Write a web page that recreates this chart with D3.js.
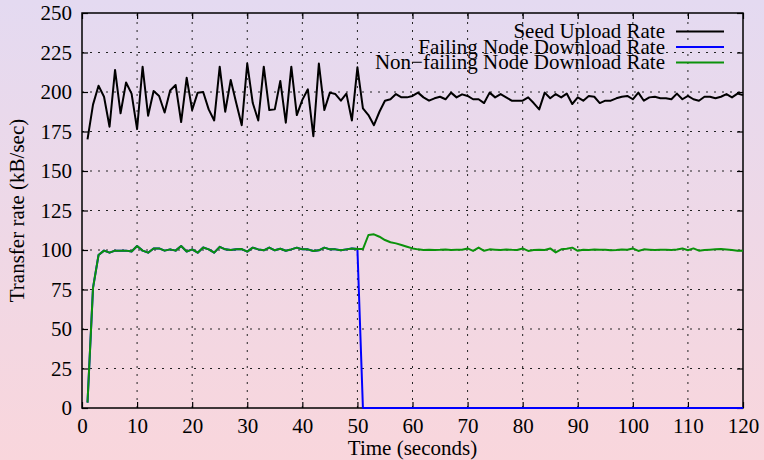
<!DOCTYPE html>
<html>
<head>
<meta charset="utf-8">
<script src="https://cdn.jsdelivr.net/npm/d3@7/dist/d3.min.js"></script>
<style>
  body { margin: 0; padding: 0; }
  svg { display: block; }
</style>
</head>
<body>
<div id="chart"></div>
<script>
// time axis: one sample per second, 1..120
var seconds = d3.range(1, 121);

var seedUpload = [170, 192, 204, 197, 178, 214, 186.5, 206, 199, 176.5,
    216, 185, 200.6, 197.5, 187, 201, 204.4, 181, 209, 188.6,
    199.6, 200, 189, 182, 216, 187.5, 207.6, 193, 179, 218,
    193, 182, 216, 188.6, 189, 207, 180.6, 216, 185.4, 195,
    201.7, 172, 218, 188.6, 199.6, 198.7, 194.5, 199, 182, 215.6,
    189.7, 185.4, 179, 187.5, 194.5, 195.4, 198.7, 196.6, 196.6, 197.5,
    199.6, 196.6, 194.5, 196, 197, 195.4, 199.6, 196.6, 198.5, 197.5,
    195.4, 195.4, 193, 199.6, 196.6, 198.7, 196.6, 194.5, 194.5, 194.5,
    196.6, 193, 189, 199.6, 196, 198.7, 196.6, 199, 192.4, 196.6,
    194.5, 197.5, 197, 193, 194.5, 194.5, 196, 197, 197.5, 195.4,
    199.6, 194.5, 196.6, 197, 196, 196, 195.4, 199, 195.4, 197.5,
    195.4, 194.5, 197, 197, 196, 197, 198.7, 196.6, 199, 198];

var failingDownload = [3.4, 76, 96.8, 99.6, 98.3, 99.6, 99.6, 99.6, 99, 102.5,
    99.6, 98.3, 101, 101, 99.6, 100.4, 99.6, 102.5, 99, 100.4,
    98.3, 101.6, 100.4, 98.3, 102, 100.4, 100, 100.4, 100.6, 99,
    101.5, 100.4, 99.8, 101.5, 99.8, 100.8, 99.5, 100.4, 101.5, 100.4,
    100.4, 99.4, 99.8, 101.5, 100.4, 100.4, 99.8, 100.4, 101, 100.6,
    0, 0, 0, 0, 0, 0, 0, 0, 0, 0,
    0, 0, 0, 0, 0, 0, 0, 0, 0, 0,
    0, 0, 0, 0, 0, 0, 0, 0, 0, 0,
    0, 0, 0, 0, 0, 0, 0, 0, 0, 0,
    0, 0, 0, 0, 0, 0, 0, 0, 0, 0,
    0, 0, 0, 0, 0, 0, 0, 0, 0, 0,
    0, 0, 0, 0, 0, 0, 0, 0, 0, 0];

var nonFailingDownload = [3.4, 76, 96.8, 99.6, 98.3, 99.6, 99.6, 99.6, 99, 102.5,
    99.6, 98.3, 101, 101, 99.6, 100.4, 99.6, 102.5, 99, 100.4,
    98.3, 101.6, 100.4, 98.3, 102, 100.4, 100, 100.4, 100.6, 99,
    101.5, 100.4, 99.8, 101.5, 99.8, 100.8, 99.5, 100.4, 101.5, 100.4,
    100.4, 99.4, 99.8, 101.5, 100.4, 100.4, 99.8, 100.4, 101, 100.6,
    100.6, 109.5, 109.9, 108.4, 106.3, 104.9, 104.2, 103.2, 102.1, 101,
    100.4, 100, 100.2, 100, 100.1, 100.3, 100, 100.2, 100.1, 101,
    99.4, 101.5, 99.5, 100.4, 100.2, 100, 100.3, 100.1, 100, 101,
    99.4, 100, 100.2, 100, 101, 98.5, 100.4, 100.8, 101.5, 99.5,
    100.2, 100, 100.3, 100.1, 100.2, 99.8, 100, 100.3, 100.1, 101,
    99.4, 100.4, 100.2, 100, 100.1, 100.2, 100, 100.3, 101, 99.8,
    101, 99.6, 100, 100.2, 100.4, 100.6, 100.3, 100, 99.6, 99.5];

var seriesNames = ["Seed Upload Rate", "Failing Node Download Rate", "Non\u2212failing Node Download Rate"];
var seriesColors = ["#000000", "#0000ff", "#0b920b"];

var xTicks = d3.range(0, 121, 10);
var yTicks = d3.range(0, 251, 25);

var width = 764, height = 460;
var margin = {top: 13, right: 21, bottom: 52, left: 82};

var svg = d3.select("#chart")
    .append("svg")
    .attr("width", width)
    .attr("height", height)
    .style("font-family", "'Liberation Serif', 'DejaVu Serif', serif");

// background gradient lavender -> pink
var grad = svg.append("defs")
    .append("linearGradient")
    .attr("id", "bg")
    .attr("x1", "0%").attr("y1", "0%")
    .attr("x2", "0%").attr("y2", "100%");
grad.append("stop").attr("offset", "0%").attr("stop-color", "#e4daf1");
grad.append("stop").attr("offset", "100%").attr("stop-color", "#f9d6dc");

svg.append("rect")
    .attr("width", width)
    .attr("height", height)
    .attr("fill", "url(#bg)");

var x = d3.scaleLinear().domain([0, 120]).range([margin.left, width - margin.right]);
var y = d3.scaleLinear().domain([0, 250]).range([height - margin.bottom, margin.top]);

// grid
var grid = svg.append("g").attr("class", "grid");
grid.selectAll(".gx")
    .data(xTicks.slice(1, -1))
    .enter()
    .append("line")
    .attr("x1", function (d) { return x(d); })
    .attr("x2", function (d) { return x(d); })
    .attr("y1", y(0))
    .attr("y2", y(250))
    .attr("stroke", "#222")
    .attr("stroke-width", 1)
    .attr("stroke-dasharray", "2,6");
grid.selectAll(".gy")
    .data(yTicks.slice(1, -1))
    .enter()
    .append("line")
    .attr("y1", function (d) { return y(d); })
    .attr("y2", function (d) { return y(d); })
    .attr("x1", x(0))
    .attr("x2", x(120))
    .attr("stroke", "#222")
    .attr("stroke-width", 1)
    .attr("stroke-dasharray", "2,6");

// axes, ticks pointing inward on all four sides
var fs = "21px";
var xAxis = svg.append("g")
    .attr("transform", "translate(0," + y(0) + ")")
    .call(d3.axisBottom(x).tickValues(xTicks).tickSizeInner(-6).tickSizeOuter(0).tickPadding(10));
var yAxis = svg.append("g")
    .attr("transform", "translate(" + x(0) + ",0)")
    .call(d3.axisLeft(y).tickValues(yTicks).tickSizeInner(-6).tickSizeOuter(0).tickPadding(10));
svg.append("g")
    .attr("transform", "translate(0," + y(250) + ")")
    .call(d3.axisTop(x).tickValues(xTicks).tickSizeInner(-6).tickSizeOuter(0).tickFormat(""));
svg.append("g")
    .attr("transform", "translate(" + x(120) + ",0)")
    .call(d3.axisRight(y).tickValues(yTicks).tickSizeInner(-6).tickSizeOuter(0).tickFormat(""));

svg.selectAll(".domain").remove();
svg.selectAll(".tick line").attr("stroke", "#000").attr("stroke-width", 1.2);
svg.selectAll(".tick text")
    .attr("fill", "#000")
    .style("font-size", fs)
    .style("font-family", "'Liberation Serif', 'DejaVu Serif', serif");

// plot border (drawn under the data lines)
svg.append("rect")
    .attr("x", x(0))
    .attr("y", y(250))
    .attr("width", x(120) - x(0))
    .attr("height", y(0) - y(250))
    .attr("fill", "none")
    .attr("stroke", "#000")
    .attr("stroke-width", 1.5);

// lines
var line = d3.line()
    .x(function (d, i) { return x(seconds[i]); })
    .y(function (d) { return y(d); });

var allSeries = [seedUpload, failingDownload, nonFailingDownload];
svg.selectAll(".series")
    .data(allSeries)
    .enter()
    .append("path")
    .attr("class", "series")
    .attr("d", line)
    .attr("fill", "none")
    .attr("stroke", function (d, i) { return seriesColors[i]; })
    .attr("stroke-width", 2)
    .attr("stroke-linejoin", "round");

// legend
var legend = svg.append("g").attr("class", "legend");
var rows = legend.selectAll("g")
    .data(seriesNames)
    .enter()
    .append("g")
    .attr("transform", function (d, i) { return "translate(0," + (38 + i * 15.5) + ")"; });
rows.append("text")
    .attr("x", 665)
    .attr("text-anchor", "end")
    .style("font-size", fs)
    .text(function (d) { return d; });
rows.append("line")
    .attr("x1", 676)
    .attr("x2", 724)
    .attr("y1", -6.5)
    .attr("y2", -6.5)
    .attr("stroke", function (d, i) { return seriesColors[i]; })
    .attr("stroke-width", 2);

// axis titles
svg.append("text")
    .attr("x", (x(0) + x(120)) / 2)
    .attr("y", 455)
    .attr("text-anchor", "middle")
    .style("font-size", fs)
    .text("Time (seconds)");

svg.append("text")
    .attr("transform", "translate(24," + (y(0) + y(250)) / 2 + ") rotate(-90)")
    .attr("text-anchor", "middle")
    .style("font-size", fs)
    .text("Transfer rate (kB/sec)");
</script>
</body>
</html>
